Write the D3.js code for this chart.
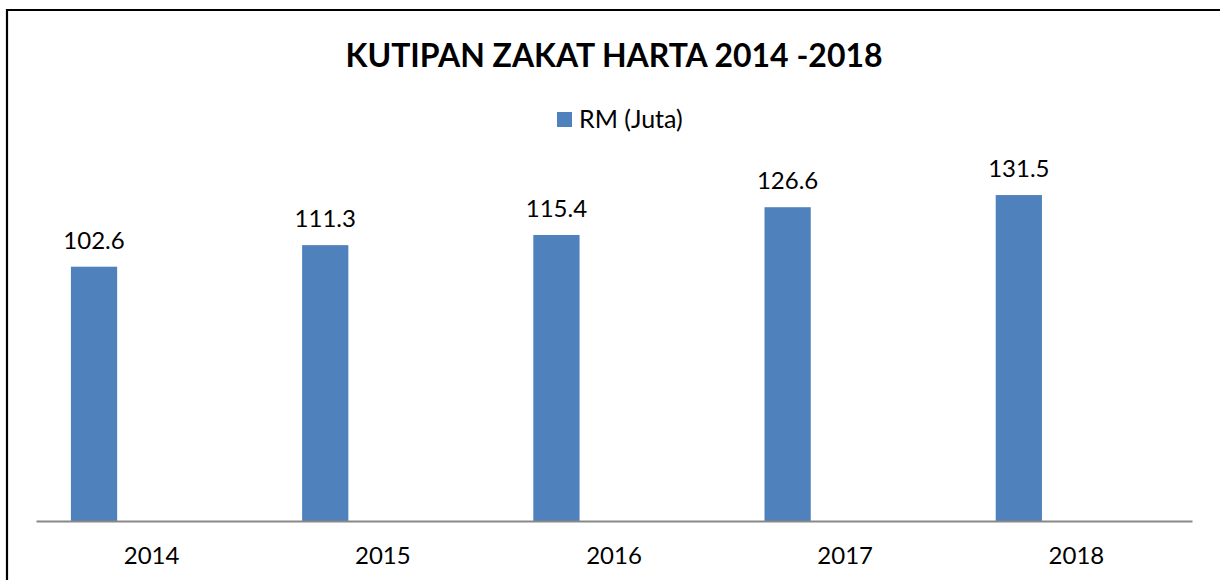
<!DOCTYPE html>
<html>
<head>
<meta charset="utf-8">
<script src="https://cdn.jsdelivr.net/npm/d3@7"></script>
<style>
  body { margin: 0; background: #fff; }
  text { font-family: Lato, 'Open Sans', sans-serif; }
</style>
</head>
<body>
<div id="chart"></div>
<script>
// Chart data
const years = ['2014', '2015', '2016', '2017', '2018'];
const values = [102.6, 111.3, 115.4, 126.6, 131.5];
const seriesName = 'RM (Juta)';
const chartTitle = 'KUTIPAN ZAKAT HARTA 2014 -2018';

const width = 1220;
const height = 580;
const plotLeft = 36;
const plotRight = 1192;
const plotBottom = 521;
const plotTop = 174;

const svg = d3
  .select('#chart')
  .append('svg')
  .attr('width', width)
  .attr('height', height);

// Outer frame (runs off the right and bottom edges)
svg
  .append('path')
  .attr('d', 'M7,' + (height + 5) + ' L7,10 L' + (width + 5) + ',10')
  .attr('fill', 'none')
  .attr('stroke', '#000')
  .attr('stroke-width', 2.2);

// Title
svg
  .append('text')
  .attr('x', 614)
  .attr('y', 67)
  .attr('text-anchor', 'middle')
  .style('font-size', '33px')
  .style('font-weight', 'bold')
  .attr('textLength', 537)
  .attr('lengthAdjust', 'spacingAndGlyphs')
  .text(chartTitle);

// Legend
const legend = svg.append('g').attr('transform', 'translate(557, 112)');
legend
  .append('rect')
  .attr('width', 15)
  .attr('height', 15)
  .attr('fill', '#4F81BD');
legend
  .append('text')
  .attr('x', 22)
  .attr('y', 16)
  .style('font-size', '25px')
  .text(seriesName);

// Scales
const x = d3
  .scaleBand()
  .domain(years)
  .range([plotLeft, plotRight]);

const y = d3
  .scaleLinear()
  .domain([0, 140])
  .range([plotBottom, plotTop]);

// bar sits left of the band centre, like the source spreadsheet chart
const barOffset = 0.151;
const barFrac = 0.2;

svg
  .selectAll('.bar')
  .data(values)
  .enter()
  .append('rect')
  .attr('class', 'bar')
  .attr('x', (d, i) => x(years[i]) + x.bandwidth() * barOffset)
  .attr('y', (d) => y(d))
  .attr('width', x.bandwidth() * barFrac)
  .attr('height', (d) => y(0) - y(d))
  .attr('fill', '#4F81BD');

// Value labels
svg
  .selectAll('.val')
  .data(values)
  .enter()
  .append('text')
  .attr('class', 'val')
  .attr('x', (d, i) => x(years[i]) + x.bandwidth() * (barOffset + barFrac / 2))
  .attr('y', (d) => y(d) - 18)
  .attr('text-anchor', 'middle')
  .style('font-size', '24px')
  .text((d) => d.toFixed(1));

// Category axis
const xAxis = d3.axisBottom(x).tickSize(0).tickPadding(26);
const axisG = svg
  .append('g')
  .attr('transform', 'translate(0,' + plotBottom + ')')
  .call(xAxis);
axisG.select('.domain').attr('stroke', '#888').attr('stroke-width', 2);
axisG
  .selectAll('text')
  .style('font-size', '24px')
  .style('font-family', "Lato, 'Open Sans', sans-serif")
  .attr('fill', '#000');
</script>
</body>
</html>
